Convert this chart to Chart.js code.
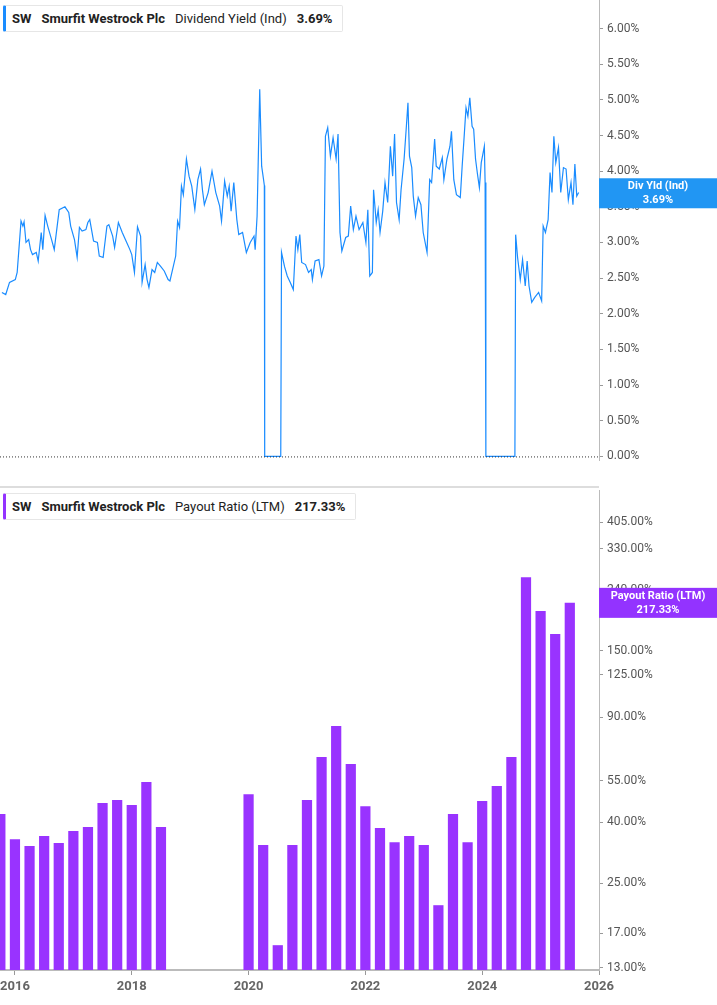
<!DOCTYPE html>
<html><head><meta charset="utf-8">
<script src="https://cdn.jsdelivr.net/npm/chart.js@4"></script>
<style>
body{margin:0;background:#fff;font-family:Roboto,"Noto Sans",sans-serif;}
#wrap{position:relative;width:717px;height:1005px;overflow:hidden}
canvas{position:absolute;left:0}
.leg{position:absolute;left:3px;height:25px;background:#fff;border:1px solid #e6e6e6;border-left:3px solid;border-radius:2px;font-size:13px;color:#222;display:flex;align-items:center;white-space:nowrap;padding:0 10px 0 6px;}
.leg span{margin-right:10px}
.leg b{font-weight:700}
#div{position:absolute;left:0;top:486px;width:599px;height:2px;background:#ddd}
</style></head><body>
<div id="wrap">
<canvas id="c1" width="717" height="488" style="top:0"></canvas>
<canvas id="c2" width="717" height="517" style="top:488px"></canvas>
<div id="div"></div>
<div class="leg" style="top:5px;border-left-color:#1a8cff"><span><b>SW</b></span><span><b>Smurfit Westrock Plc</b></span><span>Dividend Yield (Ind)</span><b>3.69%</b></div>
<div class="leg" style="top:493px;border-left-color:#9333ff"><span><b>SW</b></span><span><b>Smurfit Westrock Plc</b></span><span>Payout Ratio (LTM)</span><b>217.33%</b></div>
</div>
<script>
const yieldYears=[2015.777,2015.842,2015.907,2016.006,2016.038,2016.104,2016.136,2016.156,2016.189,2016.235,2016.267,2016.300,2016.365,2016.398,2016.450,2016.477,2016.516,2016.561,2016.627,2016.673,2016.758,2016.856,2016.921,2016.954,2017.019,2017.065,2017.104,2017.150,2017.215,2017.248,2017.281,2017.346,2017.412,2017.444,2017.510,2017.575,2017.608,2017.673,2017.706,2017.771,2017.837,2017.902,2017.968,2018.000,2018.046,2018.098,2018.151,2018.177,2018.229,2018.262,2018.294,2018.347,2018.393,2018.438,2018.491,2018.556,2018.622,2018.654,2018.752,2018.785,2018.818,2018.851,2018.883,2018.936,2018.981,2019.027,2019.080,2019.132,2019.178,2019.210,2019.243,2019.308,2019.374,2019.439,2019.505,2019.537,2019.590,2019.635,2019.668,2019.701,2019.747,2019.799,2019.832,2019.897,2019.962,2020.028,2020.093,2020.113,2020.146,2020.191,2020.224,2020.257,2020.270,2020.276,2020.551,2020.564,2020.616,2020.662,2020.714,2020.766,2020.812,2020.844,2020.877,2020.909,2020.975,2021.027,2021.073,2021.093,2021.139,2021.204,2021.250,2021.290,2021.316,2021.355,2021.401,2021.447,2021.499,2021.532,2021.565,2021.597,2021.663,2021.708,2021.748,2021.794,2021.839,2021.892,2021.957,2022.009,2022.042,2022.075,2022.120,2022.140,2022.186,2022.219,2022.251,2022.297,2022.336,2022.382,2022.428,2022.467,2022.500,2022.533,2022.578,2022.611,2022.663,2022.702,2022.729,2022.755,2022.794,2022.820,2022.859,2022.905,2022.951,2022.990,2023.056,2023.101,2023.134,2023.186,2023.213,2023.265,2023.317,2023.344,2023.396,2023.448,2023.474,2023.514,2023.559,2023.625,2023.657,2023.690,2023.723,2023.755,2023.788,2023.827,2023.854,2023.886,2023.919,2023.952,2023.984,2024.037,2024.050,2024.063,2024.560,2024.573,2024.606,2024.652,2024.691,2024.737,2024.770,2024.802,2024.848,2024.900,2024.966,2025.018,2025.044,2025.083,2025.129,2025.162,2025.195,2025.227,2025.260,2025.306,2025.345,2025.391,2025.436,2025.475,2025.521,2025.554,2025.587,2025.619,2025.652];
const yieldValues=[2.30,2.27,2.44,2.48,2.58,3.30,3.23,3.29,3.00,3.04,2.90,2.83,2.86,2.74,3.14,2.90,3.38,3.23,3.04,2.90,3.46,3.50,3.42,3.23,3.04,2.79,3.21,3.16,3.18,3.28,3.32,3.02,3.00,2.81,2.79,3.23,3.25,3.09,2.93,3.28,3.14,3.02,2.90,2.83,2.58,3.22,3.09,2.44,2.69,2.48,2.37,2.62,2.58,2.72,2.67,2.60,2.48,2.46,2.81,3.30,3.21,3.79,3.67,4.17,3.93,3.79,3.46,3.88,4.03,3.74,3.53,3.70,4.00,3.70,3.51,3.30,3.86,3.65,3.79,3.44,3.84,3.32,3.11,3.14,2.86,3.00,3.09,2.90,3.37,5.15,4.07,3.88,3.80,0,0,2.86,2.66,2.53,2.44,2.34,3.09,2.90,3.11,2.72,2.69,2.58,2.62,2.48,2.74,2.76,2.53,2.67,4.49,4.61,4.21,4.47,4.17,4.52,3.14,2.88,3.07,3.09,3.51,3.18,3.37,3.18,3.28,3.00,3.46,2.53,2.58,3.74,3.28,3.46,3.14,3.44,3.84,3.56,4.35,3.93,4.52,3.56,3.32,3.74,4.17,4.63,4.96,4.21,4.05,3.65,3.37,3.63,3.53,3.14,2.86,3.88,3.84,4.45,4.07,4.03,4.19,3.88,4.17,4.35,4.56,3.88,3.67,3.63,4.07,4.47,4.89,4.77,5.03,4.63,4.59,4.17,3.96,3.77,4.12,4.35,3.84,0,0,3.11,2.79,2.48,2.76,2.39,2.74,2.39,2.16,2.23,2.30,2.18,3.23,3.14,3.32,3.98,3.70,4.49,4.12,4.33,3.70,4.05,4.03,3.60,3.84,3.53,4.10,3.65,3.70];
const yieldTicks=[0,0.5,1,1.5,2,2.5,3,3.5,4,4.5,5,5.5,6];
const payoutQuarters=[2015.75,2016.0,2016.25,2016.5,2016.75,2017.0,2017.25,2017.5,2017.75,2018.0,2018.25,2018.5,2018.75,2019.0,2019.25,2019.5,2019.75,2020.0,2020.25,2020.5,2020.75,2021.0,2021.25,2021.5,2021.75,2022.0,2022.25,2022.5,2022.75,2023.0,2023.25,2023.5,2023.75,2024.0,2024.25,2024.5,2024.75,2025.0,2025.25,2025.5];
const payoutValues=[42.6,35.1,33.3,36.0,34.1,37.4,38.6,46.4,47.5,45.7,54.6,38.6,null,null,null,null,null,49.7,33.6,15.5,33.6,47.5,66.2,84.0,62.7,45.3,38.3,34.3,36.0,33.6,21.1,42.6,34.3,47.1,52.9,66.2,265,204,171,217.33];
const payoutTicks=[13,17,25,40,55,90,125,150,240,330,405];
const yearTicks=[2016,2018,2020,2022,2024,2026];

const FONT='Roboto';
const tickFont={family:FONT,size:12};
function badge(color,l1,l2,val){return{id:'badge',afterDraw(ch){const c=ch.ctx,y=ch.scales.y.getPixelForValue(val),a=ch.chartArea;
c.save();c.fillStyle=color;c.fillRect(a.right,y-15,118,30);c.fillStyle='#fff';c.font='bold 11px '+FONT;c.textAlign='center';c.textBaseline='middle';
c.fillText(l1,a.right+59,y-7);c.fillText(l2,a.right+59,y+7);c.restore();}};}
const zeroLine={id:'zl',afterDatasetsDraw(ch){const c=ch.ctx,y=ch.scales.y.getPixelForValue(0),a=ch.chartArea;c.save();c.setLineDash([1,2]);c.strokeStyle='#333';c.lineWidth=1;c.beginPath();c.moveTo(a.left,y+0.5);c.lineTo(a.right,y+0.5);c.stroke();c.restore();}};
const rightAxis=(extra)=>Object.assign({position:'right',afterFit(s){s.width=118;s.paddingTop=0;s.paddingBottom=0;},grid:{drawOnChartArea:false,tickLength:4,color:'#999'},border:{display:true,color:'#bbb',width:1},
 ticks:{font:tickFont,color:'#555',padding:4,callback:v=>Number(v).toFixed(2)+'%'}},extra);

new Chart(document.getElementById('c1'),{type:'line',
 data:{datasets:[{data:yieldYears.map((x,i)=>({x,y:yieldValues[i]})),borderColor:'#1a8cff',borderWidth:1.2,pointRadius:0,tension:0}]},
 options:{responsive:false,animation:false,layout:{padding:{top:0,bottom:28,left:0}},plugins:{legend:{display:false},tooltip:{enabled:false}},
  scales:{x:{type:'linear',min:2015.744,max:2026,display:false},
   y:rightAxis({min:-0.05,max:6.4,afterBuildTicks(s){s.ticks=yieldTicks.map(v=>({value:v}));}})}},
 plugins:[zeroLine,badge('#2196f3','Div Yld (Ind)','3.69%',3.69)]});

new Chart(document.getElementById('c2'),{type:'bar',
 data:{datasets:[{data:payoutQuarters.map((x,i)=>({x,y:payoutValues[i]})),backgroundColor:'#9933ff',barPercentage:0.7,categoryPercentage:1}]},
 options:{responsive:false,animation:false,layout:{padding:{top:2,left:0,right:0,bottom:0}},plugins:{legend:{display:false},tooltip:{enabled:false}},
  scales:{x:{type:'linear',offset:false,min:2015.744,max:2026,afterFit(s){s.height=35;s.paddingLeft=0;s.paddingRight=0;},afterBuildTicks(s){s.ticks=yearTicks.map(v=>({value:v}));},
    grid:{drawOnChartArea:false,offset:false,tickLength:5,color:'#999'},border:{display:true,color:'#bbb',width:2},
    ticks:{font:{family:FONT,size:13,weight:'bold'},color:'#666',padding:4,callback:v=>String(v)}},
   y:rightAxis({type:'logarithmic',min:12.8,max:519,afterBuildTicks(s){s.ticks=payoutTicks.map(v=>({value:v}));}})}},
 plugins:[badge('#9333ff','Payout Ratio (LTM)','217.33%',217.33)]});
</script></body></html>
